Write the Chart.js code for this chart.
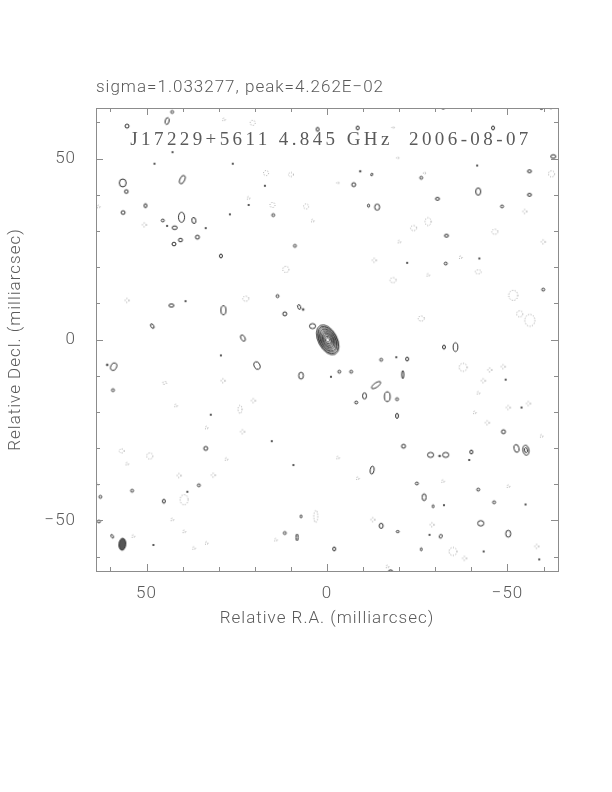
<!DOCTYPE html>
<html lang="en">
<head>
<meta charset="UTF-8">
<title>J17229+5611 4.845 GHz 2006-08-07</title>
<script src="https://cdn.jsdelivr.net/npm/chart.js@4"></script>
<style>
  html, body { margin: 0; padding: 0; background: #fff; }
</style>
</head>
<body>
<canvas id="map" width="612" height="792"></canvas>
<script>
// --- map info ---
const sourceName = 'J17229+5611';
const frequency = '4.845 GHz';
const obsDate = '2006-08-07';
const sigma = '1.033277';
const peak = '4.262E-02';

// axis ranges (milliarcsec), RA runs right to left
const raMin = -64, raMax = 64;
const decMin = -64, decMax = 64;
const tickStep = 10;
const labelStep = 50;

// core: nested contours at the map centre, [major, minor] in mas
const coreCenter = [-0.2, -0.1];
const coreMajor = [9.0, 8.2, 7.4, 6.6, 5.8, 5.0, 4.3, 3.6, 2.9, 2.1, 1.2];
const coreMinor = [5.2, 4.8, 4.4, 4.0, 3.6, 3.2, 2.8, 2.4, 2.0, 1.5, 1.0];
const corePA = -28;

// restoring beam: x, y, width, height (mas), tilt
const beam = [56.7, -56.6, 1.9, 3.3, 5];

// positive (solid) contours: x, y, width, height (mas), tilt
const posContours = [
  [55.4, 59.0, 1.1, 1.1], [44.3, 60.4, 1.1, 1.9, 15], [42.9, 62.9, 0.8, 0.8],
  [2.6, 58.1, 0.8, 1.1], [-8.5, 58.5, 0.8, 1.1], [-46.0, 58.5, 0.8, 1.1],
  [-32.2, 64.0, 1.1, 0.6], [-59.4, 63.9, 0.8, 0.6], [-62.7, 50.6, 1.4, 1.0],
  [-41.6, 48.1, 0.4, 0.4], [-56.1, 46.5, 1.1, 0.8], [-26.1, 44.7, 0.8, 0.8],
  [-12.4, 45.6, 0.5, 0.8, 20], [-7.4, 42.8, 1.1, 1.1], [-41.9, 40.9, 1.4, 2.0],
  [-56.1, 40.0, 1.1, 0.8], [-30.6, 38.9, 1.1, 0.8], [42.8, 51.8, 0.4, 0.4],
  [47.8, 48.6, 0.4, 0.4], [26.1, 48.6, 0.4, 0.4], [40.1, 44.2, 1.3, 2.5, 25],
  [56.6, 43.3, 1.9, 2.2], [55.6, 40.9, 1.0, 1.0], [50.3, 37.0, 0.8, 1.1],
  [56.5, 35.1, 1.1, 1.0], [40.3, 33.8, 1.7, 2.8], [36.9, 32.9, 1.1, 1.7, -10],
  [45.5, 32.9, 0.8, 0.8], [44.3, 31.4, 0.4, 0.4], [42.2, 30.9, 1.4, 1.0],
  [26.9, 34.6, 0.4, 0.4], [33.6, 30.8, 0.4, 0.4], [35.9, 28.3, 1.1, 1.1],
  [40.6, 27.5, 1.1, 1.0], [42.4, 26.4, 1.1, 1.0], [29.4, 23.1, 0.8, 1.1],
  [43.1, 9.4, 1.4, 0.9], [39.2, 10.6, 0.4, 0.4], [28.7, 8.1, 1.4, 2.5],
  [48.4, 3.7, 0.8, 1.4, -30], [23.3, 0.4, 1.1, 1.9, -30], [21.7, 37.2, 0.4, 0.4],
  [-48.5, 36.8, 0.8, 0.8], [-33.1, 28.7, 1.1, 0.8], [-22.2, 21.2, 0.4, 0.4],
  [-32.9, 21.0, 0.8, 0.8], [-42.2, 22.4, 0.4, 0.4], [-59.9, 13.8, 0.8, 0.8],
  [-32.4, -2.1, 0.8, 1.1], [-35.6, -2.1, 1.3, 2.4], [-9.2, 46.5, 0.5, 0.4],
  [-13.9, 36.6, 1.4, 1.7], [-11.5, 37.0, 0.6, 0.8], [17.2, 42.5, 0.4, 0.4],
  [14.9, 34.4, 0.8, 0.8], [8.9, 25.9, 0.8, 0.8], [13.7, 12.0, 0.8, 0.8],
  [7.7, 9.0, 0.8, 1.4, -20], [6.6, 8.3, 0.5, 0.5], [11.7, 7.1, 1.1, 1.1],
  [4.0, 3.7, 1.7, 1.4], [-15.0, -5.6, 0.8, 0.8], [-22.2, -5.4, 0.8, 1.1],
  [-19.2, -4.9, 0.4, 0.4], [7.2, -10.0, 1.3, 1.9], [-1.1, -10.3, 0.4, 0.4],
  [-3.4, -8.9, 0.8, 0.8], [-6.7, -8.9, 0.8, 0.8], [-21.0, -9.7, 0.6, 2.2],
  [-13.6, -12.6, 3.0, 1.2, -35], [-10.4, -15.6, 1.1, 1.7], [-16.7, -15.8, 1.6, 2.7],
  [-19.4, -16.5, 0.8, 0.8], [-8.1, -17.4, 0.8, 0.8], [-19.4, -21.1, 0.8, 1.4],
  [-49.5, -11.1, 0.4, 0.4], [-53.9, -18.8, 0.4, 0.4], [-48.9, -25.5, 1.1, 1.1],
  [-21.2, -29.5, 1.1, 1.1], [-28.7, -31.9, 1.7, 1.4], [-32.9, -31.9, 1.7, 1.4],
  [-31.2, -32.2, 0.5, 0.5], [-40.0, -31.1, 0.8, 1.1], [-39.4, -33.3, 0.4, 0.4],
  [-52.5, -30.1, 1.4, 2.2, -15], [-55.1, -30.6, 1.7, 2.8, -10], [-55.1, -30.6, 0.8, 1.4, -10],
  [-24.9, -39.8, 0.8, 0.8], [-41.9, -41.5, 0.8, 0.8], [59.1, -7.5, 1.6, 2.2, 25],
  [60.9, -7.0, 0.5, 0.5], [59.3, -14.0, 0.8, 0.8], [19.4, -7.2, 1.6, 2.2, -25],
  [29.4, -4.4, 0.4, 0.4], [32.2, -20.8, 0.4, 0.4], [33.6, -30.1, 1.1, 1.1],
  [54.0, -41.8, 0.8, 0.8], [35.5, -40.3, 0.8, 0.8], [62.8, -43.5, 0.8, 0.8],
  [45.2, -44.7, 0.8, 1.1], [38.7, -42.1, 0.4, 0.4], [63.2, -50.3, 0.8, 0.8],
  [59.5, -54.4, 0.6, 1.1, -30], [48.1, -56.8, 0.4, 0.4], [7.2, -48.9, 0.5, 0.8],
  [11.7, -53.5, 0.8, 0.8], [8.3, -54.7, 0.6, 1.9], [-26.9, -43.6, 1.1, 1.9],
  [-29.4, -46.1, 0.5, 0.8], [-32.4, -45.8, 0.4, 0.4], [-46.3, -45.0, 0.8, 0.8],
  [-55.0, -45.6, 0.4, 0.4], [-42.6, -50.8, 1.7, 1.5], [-15.0, -51.5, 1.1, 1.4],
  [-19.6, -53.1, 0.8, 0.6], [-28.4, -54.0, 0.4, 0.4], [-31.5, -54.4, 0.8, 1.1, 20],
  [-50.2, -53.7, 1.4, 1.9], [-2.0, -57.9, 0.8, 1.1], [-26.1, -58.0, 0.5, 0.8],
  [-43.4, -58.6, 0.4, 0.4], [-58.8, -60.8, 0.4, 0.4], [-17.6, -64.0, 1.1, 0.6],
  [-12.5, -36.1, 1.1, 2.2, 10], [9.3, -34.7, 0.4, 0.4], [15.3, -28.1, 0.4, 0.4]
];

// negative (dotted) contours: x, y, width, height (mas)
const negContours = [
  [20.6, 59.9, 1.4, 1.4], [28.6, 60.8, 0.8, 0.8], [-62.2, 64.0, 1.1, 0.8],
  [-18.3, 58.6, 0.6, 0.6], [10.0, 45.6, 1.4, 1.1], [-62.2, 45.8, 1.7, 1.7],
  [-28.0, 32.6, 1.7, 2.2], [-24.0, 30.8, 1.7, 1.4], [-54.8, 35.4, 1.1, 1.1],
  [-46.5, 29.8, 1.7, 1.4], [-59.9, 27.0, 1.1, 1.1], [-41.9, 18.7, 1.7, 1.1],
  [-18.3, 16.4, 1.7, 1.4], [-51.6, 12.2, 2.5, 2.8], [-56.2, 5.3, 2.8, 3.3],
  [-53.4, 7.1, 1.7, 1.7], [-26.1, 5.8, 1.7, 1.4], [50.6, 31.7, 1.1, 1.1],
  [55.4, 10.8, 1.1, 1.1], [22.5, 11.3, 1.7, 1.4], [63.3, 36.7, 0.8, 0.8],
  [21.8, 39.1, 0.8, 0.8], [16.9, 46.0, 1.4, 1.4], [15.1, 37.2, 1.4, 1.4],
  [5.8, 36.8, 1.4, 1.4], [4.0, 32.8, 0.8, 0.8], [11.4, 19.4, 1.7, 1.7],
  [-13.1, 21.9, 1.1, 1.1], [-3.0, 43.3, 0.6, 0.6], [45.0, -12.0, 1.1, 0.8],
  [41.9, -18.3, 0.8, 0.8], [28.8, -11.4, 1.1, 1.1], [24.1, -19.3, 1.1, 2.2],
  [20.4, -16.9, 1.1, 1.1], [23.4, -25.5, 1.1, 1.1], [56.9, -30.8, 1.4, 1.1],
  [49.1, -32.2, 1.7, 1.7], [55.4, -34.4, 0.8, 0.8], [41.0, -37.6, 1.1, 1.1],
  [31.5, -37.5, 1.1, 1.1], [27.9, -33.1, 0.8, 0.8], [33.4, -24.4, 0.8, 0.8],
  [63.7, -40.1, 0.8, 0.8], [-3.0, -32.7, 0.8, 0.8], [-8.5, -38.4, 0.8, 0.8],
  [-37.7, -7.7, 2.2, 2.2], [-45.1, -8.4, 1.1, 1.1], [-48.8, -7.5, 1.1, 1.1],
  [-43.3, -11.4, 1.1, 1.1], [-41.9, -14.8, 0.8, 0.8], [-50.2, -18.8, 1.1, 1.1],
  [-55.8, -17.7, 1.1, 1.1], [-40.9, -20.2, 0.8, 0.8], [-44.4, -23.0, 1.1, 1.1],
  [-59.4, -26.7, 0.8, 0.8], [-32.1, -39.2, 0.8, 0.8], [39.6, -44.3, 2.2, 2.8],
  [42.9, -49.8, 0.8, 0.8], [39.6, -53.1, 0.8, 0.8], [36.9, -57.7, 0.8, 0.8],
  [33.4, -56.3, 0.8, 0.8], [14.2, -55.4, 0.8, 0.8], [53.7, -54.4, 0.8, 0.8],
  [3.1, -48.9, 1.1, 3.3], [-12.7, -49.8, 1.1, 1.1], [-29.1, -51.2, 1.1, 1.1],
  [-34.9, -58.6, 2.2, 2.2], [-38.1, -60.5, 1.1, 1.1], [-58.1, -57.2, 1.1, 1.1],
  [-16.7, -62.8, 0.8, 0.8], [-50.2, -40.6, 0.8, 0.8], [-19.6, 50.2, 0.6, 0.6],
  [-27.0, 46.0, 0.6, 0.6], [-20.0, 27.0, 0.8, 0.8], [-28.0, 17.8, 0.8, 0.8],
  [-37.0, 22.7, 0.8, 0.8]
];

// --- drawing helpers ---
const toPoints = (rows) => rows.map(([x, y, w, h, rot]) => ({ x, y, w, h, rot: rot || 0 }));

function pxPerMas(chart) {
  const s = chart.scales.x;
  return Math.abs(s.getPixelForValue(1) - s.getPixelForValue(0));
}

// each contour is drawn as a small ellipse image used as the point style
function ellipseStyle(look) {
  return (ctx) => {
    const p = ctx.raw;
    if (!p) return 'circle';
    const k = pxPerMas(ctx.chart);
    const w = p.w * k, h = p.h * k;
    const m = Math.ceil(Math.max(w, h)) + 4;
    const c = document.createElement('canvas');
    c.width = m;
    c.height = m;
    const g = c.getContext('2d');
    g.translate(m / 2, m / 2);
    g.beginPath();
    g.ellipse(0, 0, Math.max(w / 2, 0.5), Math.max(h / 2, 0.5), p.rot * Math.PI / 180, 0, Math.PI * 2);
    if (look.fill) {
      g.fillStyle = look.fill;
      g.fill();
    }
    if (look.dash) g.setLineDash(look.dash);
    g.lineWidth = look.width;
    g.strokeStyle = look.color;
    g.stroke();
    return c;
  };
}

const coreRows = coreMajor.map((a, i) => [coreCenter[0], coreCenter[1], coreMinor[i], a, corePA]);

const textGrey = '#5a5a5a';
const axisGrey = '#8c8c8c';
const sans = 'Roboto, "DejaVu Sans", sans-serif';

// inward ticks on all four sides plus the frame
const framePlugin = {
  id: 'frame',
  afterDatasetsDraw(chart) {
    const { ctx, chartArea: a, scales: { x, y } } = chart;
    ctx.save();
    ctx.strokeStyle = axisGrey;
    ctx.lineWidth = 1;
    ctx.strokeRect(a.left + 0.5, a.top + 0.5, a.right - a.left, a.bottom - a.top);
    ctx.beginPath();
    x.ticks.forEach((t) => {
      if (t.value % tickStep !== 0) return;
      const px = Math.round(x.getPixelForValue(t.value)) + 0.5;
      const len = t.value % labelStep === 0 ? 7 : 4;
      ctx.moveTo(px, a.bottom); ctx.lineTo(px, a.bottom - len);
      ctx.moveTo(px, a.top); ctx.lineTo(px, a.top + len);
    });
    y.ticks.forEach((t) => {
      if (t.value % tickStep !== 0) return;
      const py = Math.round(y.getPixelForValue(t.value)) + 0.5;
      const len = t.value % labelStep === 0 ? 7 : 4;
      ctx.moveTo(a.left, py); ctx.lineTo(a.left + len, py);
      ctx.moveTo(a.right, py); ctx.lineTo(a.right - len, py);
    });
    ctx.stroke();

    // source label inside the map
    ctx.font = '19px "Liberation Serif", "DejaVu Serif", serif';
    ctx.fillStyle = textGrey;
    ctx.textAlign = 'center';
    ctx.textBaseline = 'middle';
    ctx.letterSpacing = '3.4px';
    ctx.fillText(sourceName + ' ' + frequency + '  ' + obsDate, (a.left + a.right) / 2 + 4, a.top + 32);
    ctx.restore();
  }
};

const spacingPlugin = {
  id: 'spacing',
  beforeDraw(chart) { chart.ctx.letterSpacing = '1px'; }
};

const tickLabel = (v) => (v % labelStep === 0 ? (v < 0 ? '\u2212' + (-v) : String(v)) : '');

new Chart(document.getElementById('map'), {
  type: 'scatter',
  data: {
    datasets: [
      {
        label: 'negative',
        data: toPoints(negContours),
        pointStyle: ellipseStyle({ color: '#9a9a9a', width: 1, dash: [1, 1.6] }),
        pointRadius: 3
      },
      {
        label: 'positive',
        data: toPoints(posContours),
        pointStyle: ellipseStyle({ color: '#2a2a2a', width: 1 }),
        pointRadius: 3
      },
      {
        label: 'core',
        data: toPoints(coreRows),
        pointStyle: ellipseStyle({ color: '#222', width: 0.9 }),
        pointRadius: 3
      },
      {
        label: 'beam',
        data: toPoints([beam]),
        pointStyle: ellipseStyle({ color: '#333', width: 1, fill: '#555' }),
        pointRadius: 3
      }
    ]
  },
  options: {
    responsive: false,
    devicePixelRatio: 1,
    animation: false,
    events: [],
    layout: { padding: { left: 0, right: 54, top: 0, bottom: 0 } },
    plugins: {
      legend: { display: false },
      tooltip: { enabled: false },
      title: {
        display: true,
        fullSize: false,
        align: 'start',
        text: 'sigma=' + sigma + ', peak=' + peak.replace('-', '\u2212'),
        color: textGrey,
        font: { family: sans, size: 17, weight: '300' },
        padding: { top: 78, bottom: 9.6 }
      }
    },
    scales: {
      x: {
        type: 'linear',
        min: raMin,
        max: raMax,
        reverse: true,
        grid: { display: false },
        border: { display: false },
        afterFit: (s) => { s.height = 221; },
        ticks: {
          stepSize: tickStep,
          includeBounds: false,
          autoSkip: false,
          maxRotation: 0,
          padding: 5,
          color: textGrey,
          font: { family: sans, size: 17, weight: '300' },
          callback: tickLabel
        },
        title: {
          display: true,
          text: 'Relative R.A. (milliarcsec)',
          color: textGrey,
          font: { family: sans, size: 17, weight: '300' },
          padding: { top: 4, bottom: 163 }
        }
      },
      y: {
        type: 'linear',
        min: decMin,
        max: decMax,
        grid: { display: false },
        border: { display: false },
        afterFit: (s) => { s.width = 96; },
        ticks: {
          stepSize: tickStep,
          includeBounds: false,
          autoSkip: false,
          padding: 12,
          color: textGrey,
          font: { family: sans, size: 17, weight: '300' },
          callback: tickLabel
        },
        title: {
          display: true,
          text: 'Relative Decl. (milliarcsec)',
          color: textGrey,
          font: { family: sans, size: 17, weight: '300' },
          padding: { top: 6, bottom: 4 }
        }
      }
    }
  },
  plugins: [spacingPlugin, framePlugin]
});
</script>
</body>
</html>
